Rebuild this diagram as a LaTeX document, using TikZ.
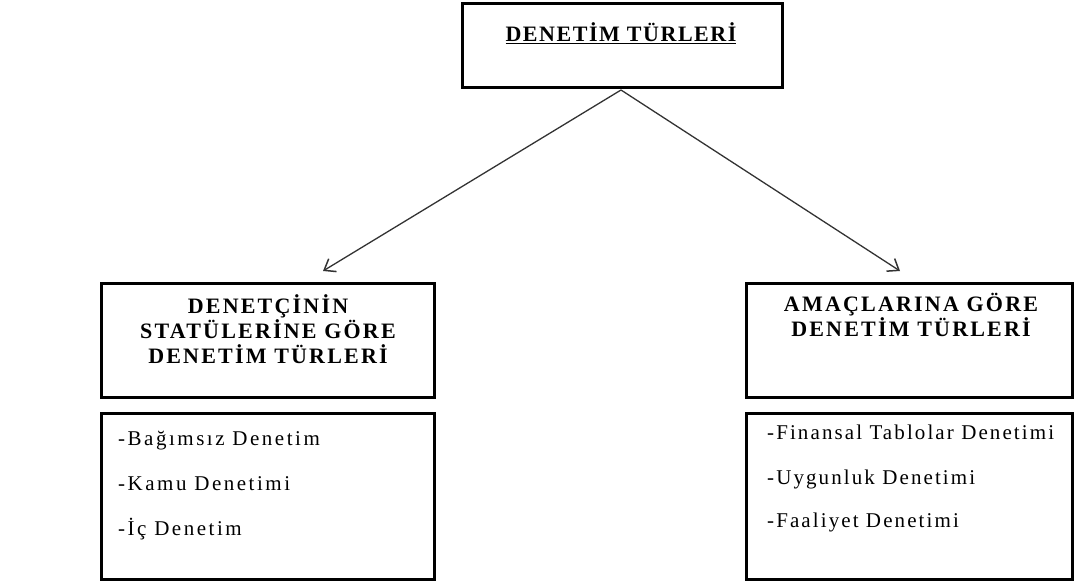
\documentclass[tikz,border=0pt]{standalone}
\usepackage{fontspec}
\setmainfont{Liberation Serif}
\newfontfamily\hdfont[LetterSpace=10]{Liberation Serif}
\newfontfamily\tpfont[LetterSpace=7]{Liberation Serif}
\newfontfamily\lsfont[LetterSpace=12]{Liberation Serif}
\newfontfamily\rsfont[LetterSpace=10]{Liberation Serif}
\usetikzlibrary{arrows.meta}
\begin{document}
\begin{tikzpicture}[x=1pt,y=-1pt,
  boxx/.style={draw=black,line width=3pt},
  hdtext/.style={font=\hdfont\bfseries\fontsize{22}{25}\selectfont,align=center,inner sep=0pt},
  lstext/.style={font=\lsfont\fontsize{21}{24}\selectfont,anchor=base west,inner sep=0pt},
  rstext/.style={font=\rsfont\fontsize{21}{24}\selectfont,anchor=base west,inner sep=0pt},
  conn/.style={draw=black!80,line width=1.3pt,-{Straight Barb[length=10pt,width=15pt,line width=1.5pt]}}]
\useasboundingbox (0,0) rectangle (1075,583);
% top box
\draw[boxx] (462,4) rectangle (782,88);
\node[hdtext,font=\tpfont\bfseries\fontsize{22}{25}\selectfont,anchor=base] (top) at (621,42) {\underline{DENETİM TÜRLERİ}};
\coordinate (topb) at (621,90);
\coordinate (la) at (323,271);
\coordinate (ra) at (900,271);
% left header
\draw[boxx] (101,283) rectangle (434,397);
\node[hdtext] (lh) at (268,329.5) {DENETÇİNİN\\STATÜLERİNE GÖRE\\DENETİM TÜRLERİ};
% right header
\draw[boxx] (746,283) rectangle (1072,397);
\node[hdtext] (rh) at (911,315) {AMAÇLARINA GÖRE\\DENETİM TÜRLERİ};
% list boxes
\draw[boxx] (101,413) rectangle (434,579);
\draw[boxx] (746,413) rectangle (1072,579);
\node[lstext] (l1) at (118,445) {-Bağımsız Denetim};
\node[lstext] (l2) at (118,490) {-Kamu Denetimi};
\node[lstext] (l3) at (118,535) {-İç Denetim};
\node[rstext] (r1) at (767,439) {-Finansal Tablolar Denetimi};
\node[rstext] (r2) at (767,484) {-Uygunluk Denetimi};
\node[rstext] (r3) at (767,527) {-Faaliyet Denetimi};
% connectors
\draw[conn] (topb) -- (la);
\draw[conn] (topb) -- (ra);
\end{tikzpicture}
\end{document}
